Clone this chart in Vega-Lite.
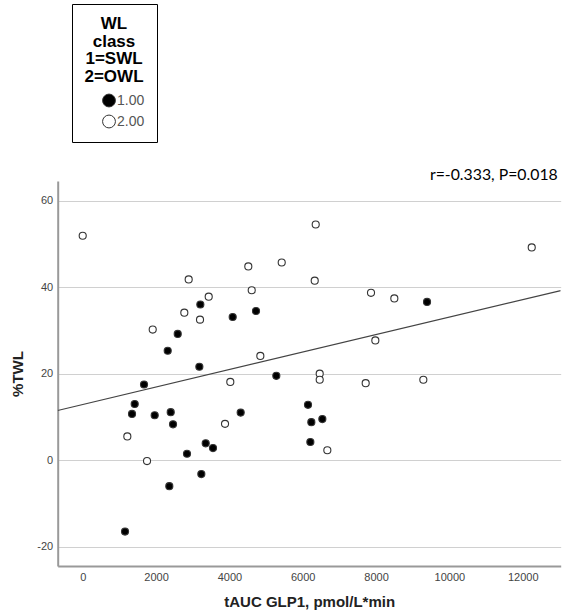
{
  "$schema": "https://vega.github.io/schema/vega-lite/v6.json",
  "autosize": "none",
  "width": 503,
  "height": 385,
  "padding": {"left": 57.7, "top": 181, "right": 2.3, "bottom": 49},
  "background": "white",
  "datasets": {
    "pts": [
      {"tauc": 0, "twl": 51.9, "wl": "2.00"},
      {"tauc": 2890, "twl": 41.8, "wl": "2.00"},
      {"tauc": 4516, "twl": 44.8, "wl": "2.00"},
      {"tauc": 5427, "twl": 45.7, "wl": "2.00"},
      {"tauc": 4609, "twl": 39.3, "wl": "2.00"},
      {"tauc": 3436, "twl": 37.8, "wl": "2.00"},
      {"tauc": 2771, "twl": 34.1, "wl": "2.00"},
      {"tauc": 3199, "twl": 32.5, "wl": "2.00"},
      {"tauc": 1909, "twl": 30.2, "wl": "2.00"},
      {"tauc": 4844, "twl": 24.1, "wl": "2.00"},
      {"tauc": 6354, "twl": 54.5, "wl": "2.00"},
      {"tauc": 12245, "twl": 49.2, "wl": "2.00"},
      {"tauc": 6327, "twl": 41.5, "wl": "2.00"},
      {"tauc": 7862, "twl": 38.7, "wl": "2.00"},
      {"tauc": 8498, "twl": 37.4, "wl": "2.00"},
      {"tauc": 7980, "twl": 27.7, "wl": "2.00"},
      {"tauc": 4025, "twl": 18.1, "wl": "2.00"},
      {"tauc": 3881, "twl": 8.4, "wl": "2.00"},
      {"tauc": 1217, "twl": 5.5, "wl": "2.00"},
      {"tauc": 1754, "twl": -0.2, "wl": "2.00"},
      {"tauc": 6463, "twl": 20.0, "wl": "2.00"},
      {"tauc": 6463, "twl": 18.6, "wl": "2.00"},
      {"tauc": 7717, "twl": 17.8, "wl": "2.00"},
      {"tauc": 9289, "twl": 18.6, "wl": "2.00"},
      {"tauc": 6671, "twl": 2.3, "wl": "2.00"},
      {"tauc": 3208, "twl": 36.0, "wl": "1.00"},
      {"tauc": 4090, "twl": 33.1, "wl": "1.00"},
      {"tauc": 4726, "twl": 34.5, "wl": "1.00"},
      {"tauc": 2591, "twl": 29.2, "wl": "1.00"},
      {"tauc": 2318, "twl": 25.3, "wl": "1.00"},
      {"tauc": 3181, "twl": 21.6, "wl": "1.00"},
      {"tauc": 9390, "twl": 36.6, "wl": "1.00"},
      {"tauc": 5280, "twl": 19.5, "wl": "1.00"},
      {"tauc": 1672, "twl": 17.5, "wl": "1.00"},
      {"tauc": 1418, "twl": 13.0, "wl": "1.00"},
      {"tauc": 1345, "twl": 10.7, "wl": "1.00"},
      {"tauc": 1963, "twl": 10.4, "wl": "1.00"},
      {"tauc": 2400, "twl": 11.1, "wl": "1.00"},
      {"tauc": 2463, "twl": 8.3, "wl": "1.00"},
      {"tauc": 4308, "twl": 11.0, "wl": "1.00"},
      {"tauc": 3354, "twl": 3.9, "wl": "1.00"},
      {"tauc": 3553, "twl": 2.8, "wl": "1.00"},
      {"tauc": 2844, "twl": 1.5, "wl": "1.00"},
      {"tauc": 3235, "twl": -3.2, "wl": "1.00"},
      {"tauc": 2362, "twl": -6.0, "wl": "1.00"},
      {"tauc": 1154, "twl": -16.5, "wl": "1.00"},
      {"tauc": 6144, "twl": 12.8, "wl": "1.00"},
      {"tauc": 6235, "twl": 8.8, "wl": "1.00"},
      {"tauc": 6535, "twl": 9.5, "wl": "1.00"},
      {"tauc": 6208, "twl": 4.2, "wl": "1.00"}
    ],
    "fit": [
      {"tauc": -682, "twl": 11.5},
      {"tauc": 13035, "twl": 39.22}
    ],
    "note": [
      {"tauc": 12954, "twl": 64.55, "label": "r=-0.333, P=0.018"}
    ]
  },
  "config": {
    "view": {"stroke": null},
    "font": "Liberation Sans",
    "axis": {
      "labelFont": "Liberation Sans",
      "titleFont": "Liberation Sans",
      "labelFontSize": 11,
      "labelColor": "#444",
      "titleFontSize": 15,
      "titleFontWeight": "bold",
      "titleColor": "#222",
      "domainColor": "#999",
      "domainWidth": 2,
      "ticks": false,
      "labelPadding": 5
    }
  },
  "layer": [
    {
      "data": {"name": "pts"},
      "mark": {"type": "point", "filled": true, "stroke": "#333", "strokeWidth": 1.1, "size": 50, "opacity": 1},
      "encoding": {
        "x": {
          "field": "tauc", "type": "quantitative",
          "scale": {"domain": [-682, 13035], "nice": false, "zero": false},
          "axis": {"title": "tAUC GLP1, pmol/L*min", "values": [0, 2000, 4000, 6000, 8000, 10000, 12000], "labelExpr": "'' + datum.value", "grid": false, "titlePadding": 12}
        },
        "y": {
          "field": "twl", "type": "quantitative",
          "scale": {"domain": [-24.46, 64.55], "nice": false, "zero": false},
          "axis": {"title": "%TWL", "values": [-20, 0, 20, 40, 60], "labelExpr": "'' + datum.value", "grid": true, "gridColor": "#d0d0d0", "gridWidth": 1, "titlePadding": 11}
        },
        "fill": {
          "field": "wl", "type": "nominal",
          "scale": {"domain": ["1.00", "2.00"], "range": ["black", "white"]},
          "legend": {
            "orient": "none",
            "legendX": 14.3,
            "legendY": -177,
            "title": ["WL", "class", "1=SWL", "2=OWL"],
            "titleFont": "Liberation Sans",
            "titleFontSize": 17,
            "titleFontWeight": "bold",
            "titleColor": "black",
            "titleLineHeight": 17.5,
            "titleAlign": "center",
            "titleAnchor": "middle",
            "titlePadding": 8,
            "padding": 12,
            "strokeColor": "black",
            "symbolType": "circle",
            "symbolSize": 165,
            "symbolStrokeColor": "#333",
            "symbolStrokeWidth": 1,
            "symbolOffset": 18,
            "labelFont": "Liberation Sans",
            "labelFontSize": 14,
            "labelColor": "#555",
            "labelOffset": 1,
            "rowPadding": 3,
            "encode": {
              "legend": {"update": {"strokeWidth": {"value": 1.5}, "width": {"value": 104}, "height": {"value": 131}}},
              "title": {"dx": {"value": 11}}
            }
          }
        }
      }
    },
    {
      "data": {"name": "fit"},
      "mark": {"type": "line", "color": "#444", "strokeWidth": 1.2, "clip": true},
      "encoding": {
        "x": {"field": "tauc", "type": "quantitative"},
        "y": {"field": "twl", "type": "quantitative"}
      }
    },
    {
      "data": {"name": "note"},
      "mark": {"type": "text", "align": "right", "baseline": "alphabetic", "font": "Lato", "fontSize": 15.8, "color": "black", "dy": -1},
      "encoding": {
        "x": {"field": "tauc", "type": "quantitative"},
        "y": {"field": "twl", "type": "quantitative"},
        "text": {"field": "label"}
      }
    }
  ]
}
